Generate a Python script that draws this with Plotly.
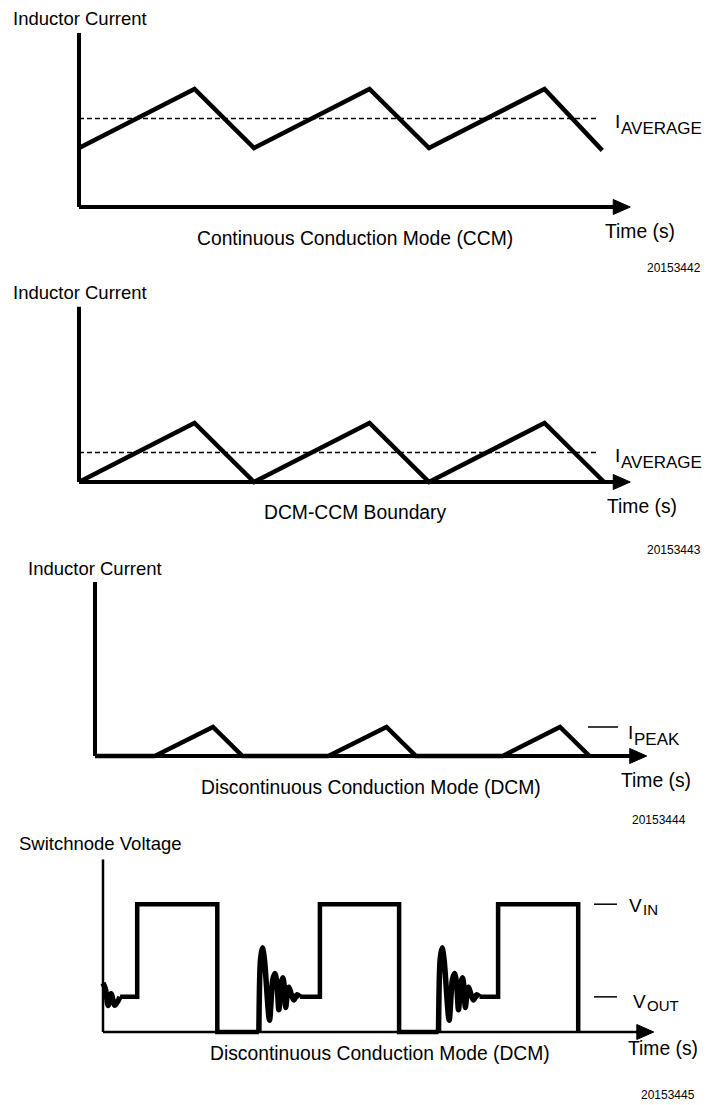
import plotly.graph_objects as go

W, H = 706, 1105
FONT = "Liberation Sans, Arial, Helvetica, sans-serif"

# ---------------- data ----------------
# Panel 1: continuous conduction mode (time in switching periods, current in arb. units)
ccm_t = [0.0, 0.66, 1.0, 1.66, 2.0, 2.66, 2.99]
ccm_i = [1.0, 2.0, 1.0, 2.0, 1.0, 2.0, 0.96]
ccm_avg = 1.5
ccm_avg_end = 2.97

# Panel 2: DCM-CCM boundary
bnd_t = [0.0, 0.66, 1.0, 1.66, 2.0, 2.66, 3.0]
bnd_i = [0.0, 1.0, 0.0, 1.0, 0.0, 1.0, 0.0]
bnd_avg = 0.5
bnd_avg_end = 2.97

# Panel 3: discontinuous conduction mode current
dcm_t = [0.0, 0.345, 0.68, 0.85, 1.345, 1.68, 1.85, 2.35, 2.68, 2.85]
dcm_i = [0.0, 0.0, 1.0, 0.0, 0.0, 1.0, 0.0, 0.0, 1.0, 0.0]
dcm_peak = 1.0

# Panel 4: switch node voltage (V)
v_in = 12.0
v_out = 3.3
# ringing segments (smooth)
ring0_t = [0.0, 0.014, 0.028, 0.045, 0.066, 0.095]
ring0_v = [4.6, 4.0, 2.5, 3.6, 2.5, 3.3]
ring1_t = [0.866, 0.875, 0.886, 0.897, 0.925, 0.943, 0.955, 0.966, 0.977, 0.99, 0.999, 1.007,
           1.015, 1.024, 1.033, 1.045, 1.06, 1.078, 1.095]
ring1_v = [0.0, 6.8, 7.9, 6.8, 1.1, 4.9, 5.5, 4.6, 2.1, 4.6, 5.1, 4.3, 2.3, 3.6, 4.2, 3.6, 3.0, 3.5, 3.3]
ring2_t = [1.864, 1.873, 1.884, 1.895, 1.923, 1.941, 1.953, 1.964, 1.975, 1.988, 1.997, 2.005,
           2.013, 2.022, 2.031, 2.043, 2.058, 2.076, 2.092]
ring2_v = [0.0, 6.8, 7.9, 6.8, 1.1, 4.9, 5.5, 4.6, 2.1, 4.6, 5.1, 4.3, 2.3, 3.6, 4.2, 3.6, 3.0, 3.5, 3.3]
# square segments (straight)
sq1_t = [0.095, 0.19, 0.19, 0.635, 0.635, 0.866]
sq1_v = [3.3, 3.3, 12.0, 12.0, 0.0, 0.0]
sq2_t = [1.095, 1.205, 1.205, 1.645, 1.645, 1.864]
sq2_v = [3.3, 3.3, 12.0, 12.0, 0.0, 0.0]
sq3_t = [2.092, 2.195, 2.195, 2.64, 2.64]
sq3_v = [3.3, 3.3, 12.0, 12.0, 0.0]

# ---------------- layout geometry (pixel origin & scale of each panel) ----------------
panels = [
    dict(x0=79, y0=207, sx=175, sy=59, ytop=2.95, xtip=3.15, aw=4),
    dict(x0=79, y0=482, sx=175, sy=59, ytop=2.97, xtip=3.15, aw=4),
    dict(x0=95, y0=756, sx=173.5, sy=29, ytop=6.0, xtip=3.18, aw=4),
    dict(x0=103, y0=1032, sx=180, sy=10.65, ytop=16.2, xtip=3.06, aw=2.5),
]

def px(x):
    return x / W

def py(y):
    return 1 - y / H

fig = go.Figure()
layout = dict(width=W, height=H, margin=dict(l=0, r=0, t=0, b=0),
              paper_bgcolor="white", plot_bgcolor="rgba(0,0,0,0)", showlegend=False)
shapes = []
annos = []

for k, p in enumerate(panels, start=1):
    sfx = "" if k == 1 else str(k)
    layout["xaxis" + sfx] = dict(domain=[0, 1], range=[-p["x0"] / p["sx"], (W - p["x0"]) / p["sx"]],
                                 visible=False, anchor="y" + sfx, fixedrange=True)
    layout["yaxis" + sfx] = dict(domain=[0, 1], range=[(p["y0"] - H) / p["sy"], p["y0"] / p["sy"]],
                                 visible=False, anchor="x" + sfx, fixedrange=True)
    xr, yr = "x" + sfx, "y" + sfx
    # y axis line
    shapes.append(dict(type="line", xref=xr, yref=yr, x0=0, x1=0, y0=0, y1=p["ytop"],
                       line=dict(color="black", width=p["aw"])))
    # x axis line
    shapes.append(dict(type="line", xref=xr, yref=yr, x0=0, x1=p["xtip"] - 8 / p["sx"], y0=0, y1=0,
                       line=dict(color="black", width=p["aw"])))
    # arrow head
    shapes.append(dict(type="path", xref=xr, yref=yr, xsizemode="pixel", ysizemode="pixel",
                       xanchor=p["xtip"], yanchor=0, path="M -17,-7.5 L 0,0 L -17,7.5 Z",
                       fillcolor="black", line=dict(color="black", width=1)))

WF = dict(color="black", width=4.5)

# Panel 1
fig.add_trace(go.Scatter(x=ccm_t, y=ccm_i, mode="lines", line=WF, xaxis="x", yaxis="y"))
fig.add_trace(go.Scatter(x=[0, ccm_avg_end], y=[ccm_avg, ccm_avg], mode="lines",
                         line=dict(color="black", width=1.6, dash="5px,3px"), xaxis="x", yaxis="y"))
# Panel 2
fig.add_trace(go.Scatter(x=bnd_t, y=bnd_i, mode="lines", line=WF, xaxis="x2", yaxis="y2"))
fig.add_trace(go.Scatter(x=[0, bnd_avg_end], y=[bnd_avg, bnd_avg], mode="lines",
                         line=dict(color="black", width=1.6, dash="5px,3px"), xaxis="x2", yaxis="y2"))
# Panel 3
fig.add_trace(go.Scatter(x=dcm_t, y=dcm_i, mode="lines", line=WF, xaxis="x3", yaxis="y3"))
# Panel 4
for tt, vv, shp in [(ring0_t, ring0_v, "spline"), (sq1_t, sq1_v, "linear"),
                    (ring1_t, ring1_v, "spline"), (sq2_t, sq2_v, "linear"),
                    (ring2_t, ring2_v, "spline"), (sq3_t, sq3_v, "linear")]:
    ln = dict(color="black", width=4.5, shape=shp)
    if shp == "spline":
        ln["smoothing"] = 0.8
        ln["width"] = 5.5
    fig.add_trace(go.Scatter(x=tt, y=vv, mode="lines", line=ln, xaxis="x4", yaxis="y4"))

def text(s, x, y, size, xanchor="left", xref="paper", yref="paper", yshift=0):
    annos.append(dict(text=s, x=x, y=y, xref=xref, yref=yref, xanchor=xanchor, yanchor="middle",
                      showarrow=False, yshift=yshift, font=dict(family=FONT, size=size, color="black")))

# titles
text("Inductor Current", px(11), py(18), 18.5)
text("Inductor Current", px(11), py(293), 18.5)
text("Inductor Current", px(26), py(568), 18.5)
text("Switchnode Voltage", px(17), py(843), 18.5)
# captions
text("Continuous Conduction Mode (CCM)", px(355), py(238), 19.3, "center")
text("DCM-CCM Boundary", px(355), py(512), 19.3, "center")
text("Discontinuous Conduction Mode (DCM)", px(371), py(787), 19.3, "center")
text("Discontinuous Conduction Mode (DCM)", px(380), py(1053), 19.3, "center")
# time labels
text("Time (s)", px(603), py(231), 19.3)
text("Time (s)", px(605), py(507), 19.3)
text("Time (s)", px(619), py(780), 19.3)
text("Time (s)", px(626), py(1048), 19.3)
# figure ids
text("20153442", px(703), py(268), 12, "right")
text("20153443", px(703), py(550), 12, "right")
text("20153444", px(688), py(820), 12, "right")
text("20153445", px(697), py(1095), 12, "right")

# level labels
text("I", px(613), ccm_avg, 19, yref="y", yshift=-3)
text("AVERAGE", px(619), ccm_avg, 17, yref="y", yshift=-10)
text("I", px(613), bnd_avg, 19, yref="y2", yshift=-3)
text("AVERAGE", px(619), bnd_avg, 17, yref="y2", yshift=-10)

shapes.append(dict(type="line", xref="paper", yref="y3", x0=px(588), x1=px(618), y0=dcm_peak, y1=dcm_peak,
                   line=dict(color="black", width=1.5)))
text("I", px(626), dcm_peak, 19, yref="y3", yshift=-5)
text("PEAK", px(632), dcm_peak, 17, yref="y3", yshift=-12)

shapes.append(dict(type="line", xref="paper", yref="y4", x0=px(594), x1=px(617), y0=v_in, y1=v_in,
                   line=dict(color="black", width=1.5)))
text("V", px(627), v_in, 19, yref="y4", yshift=-1)
text("IN", px(641), v_in, 15, yref="y4", yshift=-5)
shapes.append(dict(type="line", xref="paper", yref="y4", x0=px(594), x1=px(617), y0=v_out, y1=v_out,
                   line=dict(color="black", width=1.5)))
text("V", px(631), v_out, 19, yref="y4", yshift=-5)
text("OUT", px(645), v_out, 15, yref="y4", yshift=-9)

layout["shapes"] = shapes
layout["annotations"] = annos
fig.update_layout(**layout)
fig.write_html("out.html", config={"displayModeBar": False},
               post_script="document.body.style.margin='0';document.body.style.padding='0';")
